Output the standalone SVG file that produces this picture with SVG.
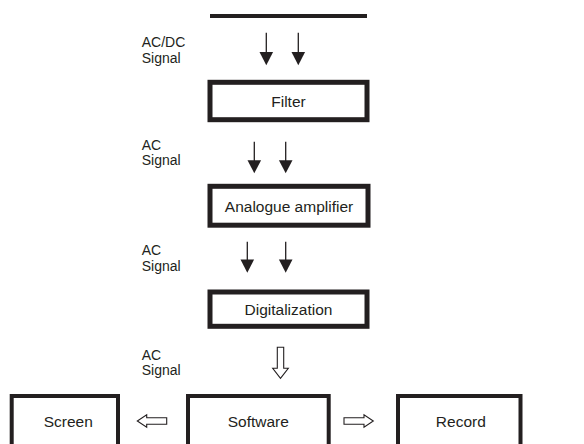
<svg xmlns="http://www.w3.org/2000/svg" width="584" height="444" viewBox="0 0 584 444">
<style>
text{font-family:"Liberation Sans",Arial,sans-serif;font-size:15.5px;fill:#231f20}
.c{text-anchor:middle}
.lb{font-size:14px}
.box{fill:#fff;stroke:#231f20;stroke-width:5}
.box2{fill:#fff;stroke:#231f20;stroke-width:4}
.sh{stroke:#231f20;stroke-width:1.3;fill:none}
.hd{fill:#231f20;stroke:none}
.ho{fill:#fff;stroke:#231f20;stroke-width:1.1;stroke-linejoin:miter}
</style>
<rect width="584" height="444" fill="#fff"/>
<g id="source"><rect x="210" y="14" width="157" height="4" fill="#231f20"/></g>
<g id="filter"><rect class="box" x="210" y="82.3" width="157" height="37.4"/><text class="c" x="288.5" y="107">Filter</text></g>
<g id="amplifier"><rect class="box" x="210" y="186.3" width="158" height="38.9"/><text class="c" x="289" y="211.7">Analogue amplifier</text></g>
<g id="digitalization"><rect class="box" x="210" y="292" width="157" height="34.3"/><text class="c" x="288.5" y="315">Digitalization</text></g>
<g id="screen"><rect class="box2" x="11.7" y="396" width="106.3" height="60"/><text class="c" x="68.3" y="426.7">Screen</text></g>
<g id="software"><rect class="box2" x="188" y="396" width="140.7" height="60"/><text class="c" x="258.3" y="426.7">Software</text></g>
<g id="record"><rect class="box2" x="398" y="396" width="122.5" height="60"/><text class="c" x="460.8" y="426.7">Record</text></g>
<g id="labels">
<text class="lb" x="141.7" y="47"><tspan x="141.7">AC/DC</tspan><tspan x="141.7" dy="15.8">Signal</tspan></text>
<text class="lb" x="141.7" y="149.5"><tspan x="141.7">AC</tspan><tspan x="141.7" dy="15.8">Signal</tspan></text>
<text class="lb" x="141.7" y="254.8"><tspan x="141.7">AC</tspan><tspan x="141.7" dy="15.8">Signal</tspan></text>
<text class="lb" x="141.7" y="359.5"><tspan x="141.7">AC</tspan><tspan x="141.7" dy="15.8">Signal</tspan></text>
</g>
<g id="connectors">
<line class="sh" x1="266.3" y1="32.7" x2="266.3" y2="53"/><polygon class="hd" points="259.5,52 273.1,52 266.3,65.3"/>
<line class="sh" x1="298.3" y1="32.7" x2="298.3" y2="53"/><polygon class="hd" points="291.5,52 305.1,52 298.3,65.3"/>
<line class="sh" x1="254.3" y1="141.7" x2="254.3" y2="161"/><polygon class="hd" points="247.5,160.3 261.1,160.3 254.3,173.3"/>
<line class="sh" x1="285.7" y1="141.7" x2="285.7" y2="161"/><polygon class="hd" points="278.9,160.3 292.5,160.3 285.7,173.3"/>
<line class="sh" x1="247.3" y1="241.7" x2="247.3" y2="260"/><polygon class="hd" points="240.5,259.5 254.1,259.5 247.3,272.7"/>
<line class="sh" x1="285.7" y1="241.7" x2="285.7" y2="260"/><polygon class="hd" points="278.9,259.5 292.5,259.5 285.7,272.7"/>
<polygon class="ho" points="277.3,347.3 283.7,347.3 283.7,368.3 288.3,368.3 280.5,378.3 272.7,368.3 277.3,368.3"/>
<polygon class="ho" points="166.7,417.8 166.7,424.2 146.7,424.2 146.7,427.3 137.3,421 146.7,414.7 146.7,417.8"/>
<polygon class="ho" points="344,417.8 344,424.2 364,424.2 364,427.3 373.3,421 364,414.7 364,417.8"/>
</g>
</svg>
